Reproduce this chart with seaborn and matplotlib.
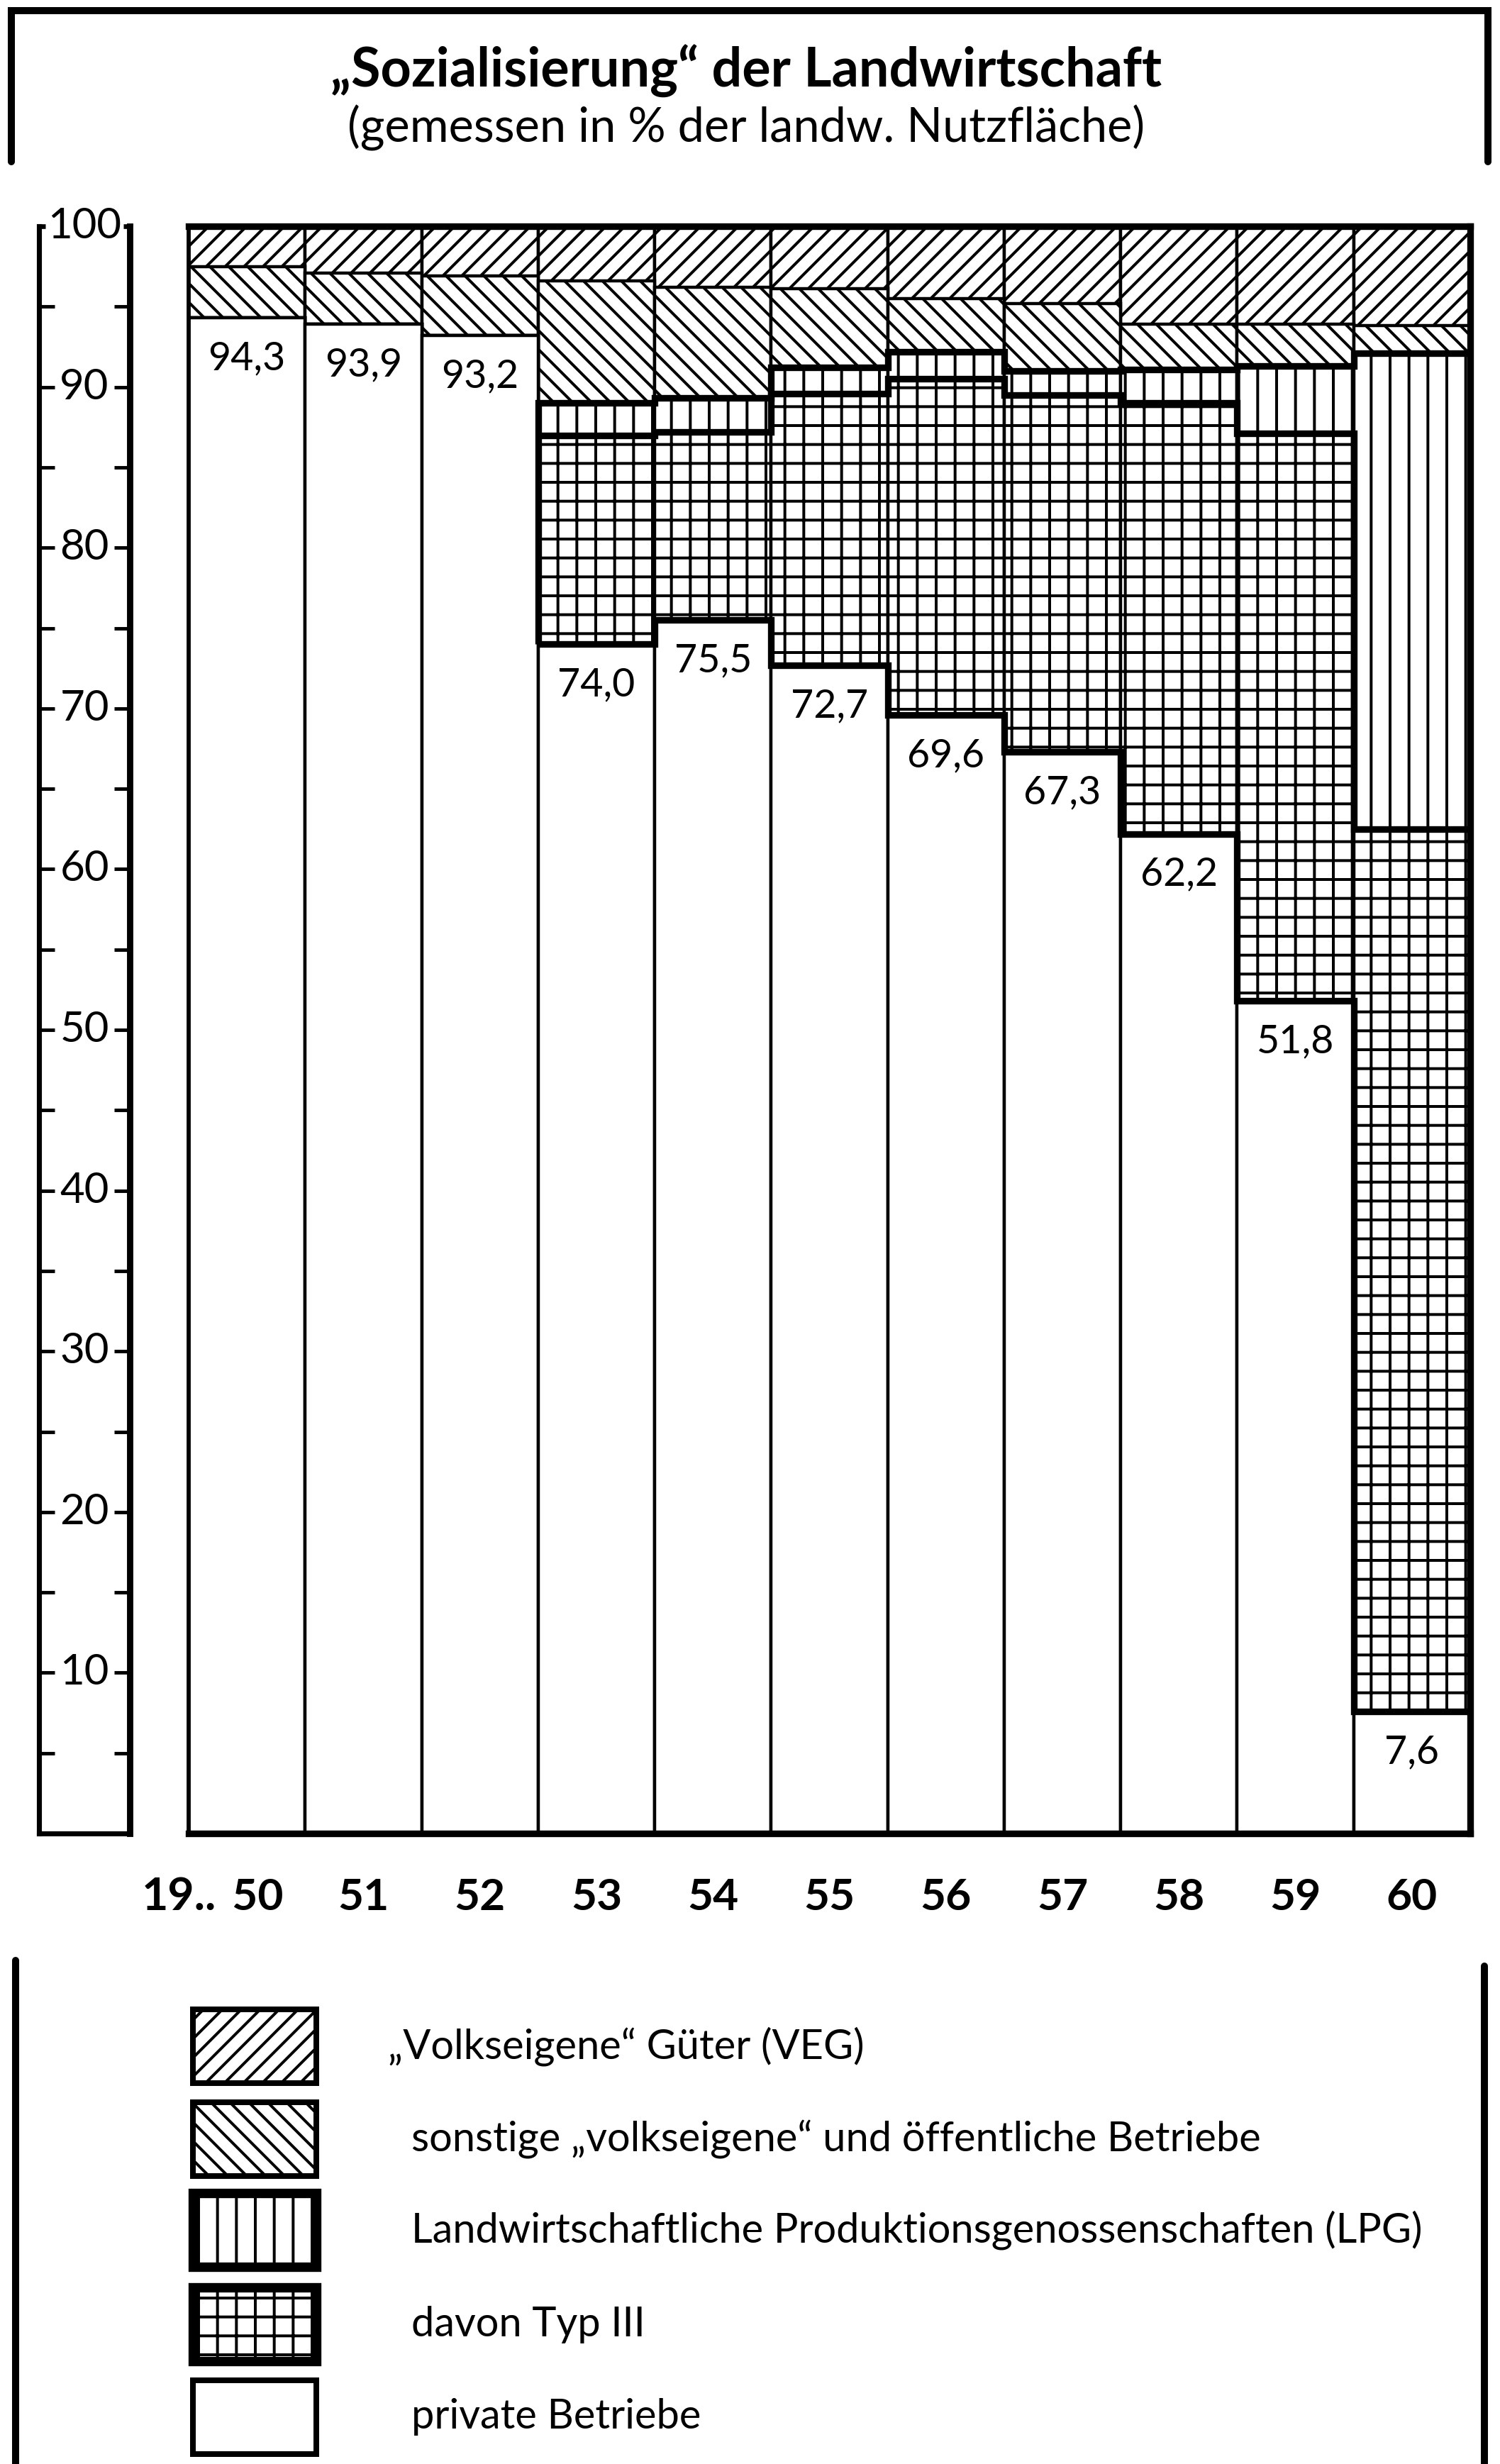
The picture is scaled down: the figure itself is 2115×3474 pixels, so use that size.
import numpy as np
import pandas as pd
import matplotlib.pyplot as plt
from matplotlib.patches import Rectangle
import seaborn as sns

# ### Werte aus der Grafik (Anteile in % der landw. Nutzflaeche)
years = ["50", "51", "52", "53", "54", "55", "56", "57", "58", "59", "60"]
private = [94.3, 93.9, 93.2, 74.0, 75.5, 72.7, 69.6, 67.3, 62.2, 51.8, 7.6]
typ3 = [0, 0, 0, 13.0, 11.7, 16.9, 20.9, 22.2, 26.8, 35.3, 54.9]
lpg_rest = [0, 0, 0, 2.0, 2.1, 1.6, 1.7, 1.5, 2.1, 4.2, 29.6]
sonstige = [3.2, 3.2, 3.7, 7.6, 6.9, 4.9, 3.3, 4.2, 2.8, 2.6, 1.7]
veg = [2.5, 2.9, 3.1, 3.4, 3.8, 3.9, 4.5, 4.8, 6.1, 6.1, 6.2]

year_labels = ["  50", "51", "52", "53", "54", "55", "56", "57", "58", "59", "60"]
yticks_labels = [10, 20, 30, 40, 50, 60, 70, 80, 90, 100]
legend_labels = ["\u201eVolkseigene\u201c G\u00fcter (VEG)",
                 "sonstige \u201evolkseigene\u201c und \u00f6ffentliche Betriebe",
                 "Landwirtschaftliche Produktionsgenossenschaften (LPG)",
                 "davon Typ III",
                 "private Betriebe"]
legend_hatches = ["//", "\\\\", "|", "+", ""]
title = "\u201eSozialisierung\u201c der Landwirtschaft"
subtitle = "(gemessen in % der landw. Nutzfl\u00e4che)"

# table with cumulative tops of each layer
df = pd.DataFrame({"jahr": years, "privat": private, "typ3": typ3,
                   "lpg_rest": lpg_rest, "sonstige": sonstige, "veg": veg})
df["top_typ3"] = df.privat + df.typ3
df["top_lpg"] = df.top_typ3 + df.lpg_rest
df["top_sonst"] = df.top_lpg + df.sonstige
df["top_veg"] = df.top_sonst + df.veg

sns.set_theme(style="white")
plt.rcParams["font.family"] = ["Lato", "DejaVu Sans"]
plt.rcParams["hatch.linewidth"] = 1.8
plt.rcParams["hatch.color"] = "black"
plt.rcParams["axes.edgecolor"] = "black"

W, H = 2115, 3474
DPI = 160
fig = plt.figure(figsize=(W / DPI, H / DPI), dpi=DPI)
fig.patch.set_facecolor("white")

y0, y100 = 2585, 319
ax = fig.add_axes([266 / W, 1 - y0 / H, (2073 - 266) / W, (y0 - y100) / H])

# layered bars: tallest first, each following layer hides the part below
layers = [("top_veg", "//"), ("top_sonst", "\\\\"), ("top_lpg", "|"),
          ("top_typ3", "+"), ("privat", "")]
for col, hatch in layers:
    sns.barplot(data=df, x="jahr", y=col, order=years, color="white",
                saturation=1, edgecolor="black", linewidth=2.0, hatch=hatch,
                width=1.0, errorbar=None, ax=ax)

# thick outline around the LPG block and the Typ III boundary
n0 = 3
edges = np.arange(n0 - 0.5, len(years) + 0.5, 1.0)
ax.stairs(df.top_lpg[n0:], edges, baseline=df.privat[n0:].values,
          color="black", lw=4.2, zorder=3)
ax.stairs(df.top_typ3[n0:], edges, baseline=None, color="black", lw=4.2, zorder=3)

ax.set_xlim(-0.5, len(years) - 0.5)
ax.set_ylim(0, 100)
ax.set_yticks([])
ax.set_xlabel("")
ax.set_ylabel("")
for side, lw in [("top", 4.2), ("bottom", 4.2), ("left", 2.6), ("right", 4.2)]:
    ax.spines[side].set_visible(True)
    ax.spines[side].set_linewidth(lw)
    ax.spines[side].set_color("black")
ax.set_xticks(range(len(years)))
ax.set_xticklabels(year_labels, fontweight="bold")
ax.tick_params(axis="x", length=0, pad=28, labelsize=28, labelcolor="black")

for i, v in enumerate(private):
    ax.annotate(f"{v:.1f}".replace(".", ","), xy=(i, v), xytext=(0, -26),
                textcoords="offset points", ha="center", va="center",
                fontsize=25, color="black", zorder=5)
ax.text(-0.26, -0.0395, "19..", transform=ax.get_xaxis_transform(),
        ha="right", va="center", fontsize=29, fontweight="bold", color="black")

# y scale drawn as a ruler
ax_r = fig.add_axes([55 / W, 1 - y0 / H, 128 / W, (y0 - y100) / H])
ax_r.set_facecolor("none")
ax_r.set_xlim(0, 1)
ax_r.set_ylim(0, 100)
ax_r.spines["top"].set_visible(False)
for side, lw in [("left", 3.2), ("right", 4.0), ("bottom", 3.2)]:
    ax_r.spines[side].set_visible(True)
    ax_r.spines[side].set_linewidth(lw)
    ax_r.spines[side].set_color("black")
ax_r.set_xticks([])
ax_r.set_yticks(np.arange(5, 100, 5))
ax_r.set_yticks([100], minor=True)
ax_r.tick_params(axis="y", which="major", left=True, right=True, direction="in",
                 length=10, width=2.2, color="black", labelleft=False)
ax_r.tick_params(axis="y", which="minor", left=True, right=True, direction="in",
                 length=4, width=3, color="black")
for v in yticks_labels:
    ax_r.text(0.5, v, str(v), ha="center", va="center", fontsize=27,
              color="black", zorder=5)

# frame lines, title and legend in pixel coordinates
deco = fig.add_axes([0, 0, 1, 1])
deco.set_facecolor("none")
deco.set_xlim(0, W)
deco.set_ylim(H, 0)
deco.axis("off")

deco.plot([16, 16, 2098, 2098], [228, 15, 15, 228], color="black", lw=4.5,
          solid_joinstyle="miter")
deco.text(1052, 100, title, ha="center", va="center", fontsize=34,
          fontweight="bold", color="black")
deco.text(1052, 180, subtitle, ha="center", va="center", fontsize=30,
          color="black")

deco.plot([22, 22], [2764, H], color="black", lw=4.5)
deco.plot([2093, 2093], [2772, H], color="black", lw=4.5)
centers = [2885, 3016, 3144, 3277, 3408]
for k, (lab, hatch, cy) in enumerate(zip(legend_labels, legend_hatches, centers)):
    lw = 6.0 if k in (2, 3) else 3.6
    deco.add_patch(Rectangle((272, cy - 52), 174, 104, facecolor="white",
                             edgecolor="black", hatch=hatch, lw=lw))
    deco.text(547 if k == 0 else 580, cy, lab, ha="left", va="center",
              fontsize=26, color="black")

fig.savefig("out.png", dpi=DPI, facecolor="white")
